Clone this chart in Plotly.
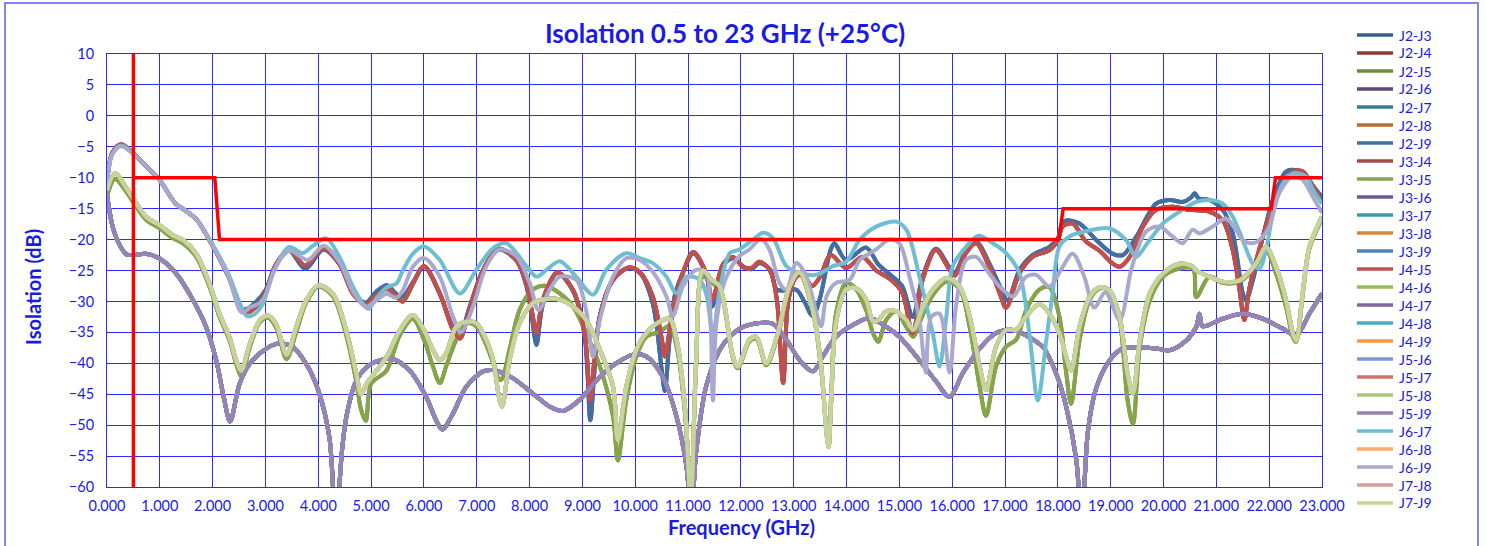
import plotly.graph_objects as go

# ---------------- data ----------------
TITLE = "Isolation 0.5 to 23 GHz (+25°C)"
X_TITLE = "Frequency (GHz)"
Y_TITLE = "Isolation (dB)"

# upper group, dark blue trace
f_blue = [0.0, 0.1, 0.27, 0.5, 0.75, 1.0, 1.3, 1.5, 1.7, 2.0, 2.3, 2.55, 2.65, 2.83, 3.0, 3.2, 3.45, 3.75, 4.1, 4.4,
          4.66, 4.9, 5.1, 5.3, 5.48, 5.6, 5.8, 6.0, 6.3, 6.55, 6.68, 6.86, 7.12, 7.42, 7.75, 7.94, 8.05, 8.13, 8.25, 8.52,
          8.82, 9.04, 9.15, 9.22, 9.33, 9.58, 9.88, 10.1, 10.33, 10.5, 10.56, 10.64, 10.75, 10.9, 11.1, 11.34, 11.46,
          11.66, 11.85, 12.05, 12.2, 12.35, 12.55, 12.68, 12.85, 13.05, 13.2, 13.36, 13.49, 13.7, 13.77, 13.99, 14.37,
          14.6, 14.8, 15.05, 15.25, 15.44, 15.69, 15.95, 16.05, 16.26, 16.45, 16.7, 16.9, 17.05, 17.27, 17.52, 17.84,
          18.0, 18.09, 18.16, 18.41, 18.73, 19.04, 19.23, 19.48, 19.86, 20.11, 20.37, 20.52, 20.59, 20.66, 20.87, 21.12,
          21.31, 21.5, 21.56, 21.69, 21.88, 22.07, 22.32, 22.51, 22.7, 22.89, 23.0]
db_blue = [-11, -6, -4.7, -6.1, -8.2, -10.4, -14.2, -15.4, -16.8, -21, -26, -31.2, -31.2, -30, -28.2, -24, -21.8, -24.7,
           -21.6, -24, -28.6, -30.2, -28.4, -27.4, -28.8, -29.2, -26.8, -24.4, -28.8, -34.2, -35.3, -31, -24.9, -21.6,
           -23.4, -27.5, -33, -37, -30.5, -25.4, -28.3, -35.5, -49.2, -42, -32.4, -26.5, -24.6, -25.5, -30.3, -41,
           -44.5, -37, -29, -25.4, -22.2, -25.6, -30.8, -24.2, -23, -24.4, -24.8, -23.8, -24.8, -28.1, -28.2, -28.1,
           -30, -32.4, -29.7, -21.6, -20.6, -23.3, -21.3, -24, -25.5, -27.5, -32.5, -26, -21.5, -24.5, -25.3, -21.8,
           -20.3, -23.8, -27.5, -29.8, -25, -22.5, -21.2, -19.8, -17.2, -16.9, -17.4, -20.1, -22.3, -22.5, -19.6,
           -14.2, -13.6, -13.9, -13.2, -12.5, -13.3, -13.6, -15.2, -19, -28.7, -29.8, -26.6, -19.6, -13.6, -9, -8.8,
           -9.8, -12, -13.1]

# upper group, red trace
f_red = [0.0, 0.1, 0.27, 0.5, 0.75, 1.0, 1.3, 1.5, 1.7, 2.0, 2.3, 2.55, 2.65, 2.83, 3.0, 3.2, 3.45, 3.75, 4.1, 4.4,
         4.66, 4.9, 5.1, 5.3, 5.48, 5.6, 5.8, 6.0, 6.3, 6.55, 6.68, 6.86, 7.12, 7.42, 7.75, 7.94, 8.05, 8.13, 8.25, 8.52,
         8.82, 9.04, 9.15, 9.22, 9.33, 9.58, 9.88, 10.1, 10.33, 10.5, 10.56, 10.71, 10.9, 11.1, 11.34, 11.46, 11.66,
         11.85, 12.05, 12.2, 12.35, 12.55, 12.68, 12.8, 12.9, 13.05, 13.17, 13.35, 13.5, 13.7, 13.99, 14.3, 14.56,
         14.81, 15.05, 15.25, 15.44, 15.69, 15.95, 16.05, 16.26, 16.45, 16.7, 16.9, 17.02, 17.27, 17.52, 17.84, 18.0,
         18.09, 18.28, 18.53, 18.79, 19.04, 19.17, 19.36, 19.61, 19.86, 20.18, 20.49, 20.87, 21.12, 21.31, 21.44,
         21.53, 21.63, 21.88, 22.13, 22.45, 22.64, 22.83, 23.0]
db_red = [-11, -6, -4.6, -6.1, -8.2, -10.4, -14.2, -15.4, -16.8, -21, -26, -31.3, -31.8, -30.8, -28.6, -24, -21.6,
          -24.2, -21.4, -23.9, -28.8, -30.5, -29, -28, -29.2, -30, -27, -24.3, -28.7, -34.6, -36, -31.4, -24.9, -21.5,
          -23.3, -27, -31.9, -35.1, -29.7, -25.3, -28.1, -35, -46, -40, -32.4, -26.5, -24.5, -25.4, -29.2, -36, -38.9,
          -31.4, -25.4, -22, -25.4, -29.7, -24, -22.8, -24.5, -24.6, -23.6, -25, -29.7, -43.2, -29.7, -26, -25.7,
          -27.5, -26, -22.5, -24.6, -22.8, -25, -26.3, -28.5, -35.2, -26.5, -21.7, -24.9, -25.8, -22.2, -20.6, -24.4,
          -28.7, -31, -25.5, -22.8, -21.7, -20.1, -17.9, -17.4, -20.3, -21.8, -23.9, -24.4, -22.8, -17.9, -15.2,
          -14.7, -15.2, -15.5, -16.9, -21.7, -28.2, -33, -27.7, -19.6, -13.1, -9, -9, -11.5, -13.6]

# upper group, light cyan trace
f_cyan = [0.0, 0.1, 0.27, 0.5, 0.75, 1.0, 1.3, 1.5, 1.7, 2.0, 2.3, 2.5, 2.65, 2.8, 2.95, 3.14, 3.45, 3.7, 3.9, 4.15,
          4.4, 4.66, 4.85, 4.95, 5.1, 5.3, 5.48, 5.6, 5.79, 6.0, 6.3, 6.68, 6.99, 7.31, 7.56, 7.94, 8.13, 8.32, 8.57,
          8.88, 9.2, 9.45, 9.83, 10.08, 10.33, 10.59, 10.78, 10.97, 11.22, 11.35, 11.47, 11.6, 11.79, 11.97, 12.23,
          12.42, 12.61, 12.86, 13.11, 13.43, 13.74, 13.99, 14.25, 14.56, 14.94, 15.13, 15.38, 15.63, 15.76, 15.89,
          16.01, 16.27, 16.5, 16.77, 17.02, 17.27, 17.46, 17.62, 17.78, 17.9, 18.03, 18.22, 18.5, 18.98, 19.29, 19.48,
          19.7, 19.99, 20.3, 20.62, 20.87, 21.12, 21.31, 21.5, 21.69, 21.82, 21.94, 22.07, 22.26, 22.45, 22.7, 22.83,
          23.0]
db_cyan = [-11, -6.2, -4.8, -6.1, -8.2, -10.4, -14.2, -15.4, -16.8, -20.8, -25.6, -30, -32.4, -32, -30.4, -25.5,
           -21.2, -22.2, -21, -19.8, -22.8, -27.7, -30.4, -31.2, -29.5, -27.7, -27.1, -25, -22.3, -21.1, -23.3, -28.7,
           -24.9, -21.4, -20.6, -24.3, -26, -24.9, -23.5, -26, -28.9, -24.9, -22.2, -23, -23.8, -26, -28.7, -26, -26.5,
           -29, -35.5, -28, -22.2, -21.6, -20, -18.9, -19.8, -24.3, -25.4, -25.7, -24.3, -23.6, -20, -17.9, -17.1,
           -18.4, -26, -35.1, -40.5, -32.4, -24.3, -21.1, -19.4, -20.6, -22.2, -25.4, -35.1, -46, -36.3, -28.7, -21.1,
           -19.5, -18.7, -18.2, -20.1, -22.8, -20.5, -17.4, -15.5, -13.9, -13.6, -14.2, -16.3, -20.1, -23.9, -24.7,
           -21.7, -15.8, -10.9, -9.3, -9.8, -12, -14.2]

# upper group, lavender trace
f_lav = [0.0, 0.1, 0.27, 0.5, 0.75, 1.0, 1.3, 1.5, 1.7, 2.0, 2.3, 2.55, 2.7, 2.9, 3.0, 3.2, 3.45, 3.8, 4.1, 4.4, 4.66,
         4.9, 5.1, 5.29, 5.48, 5.6, 5.79, 6.0, 6.3, 6.55, 6.7, 6.93, 7.18, 7.43, 7.75, 8.0, 8.17, 8.38, 8.57, 8.88,
         9.07, 9.2, 9.33, 9.58, 9.83, 10.08, 10.33, 10.59, 10.71, 10.9, 11.15, 11.34, 11.42, 11.47, 11.53, 11.66,
         11.79, 11.97, 12.16, 12.38, 12.54, 12.73, 12.86, 13.05, 13.24, 13.43, 13.52, 13.62, 13.8, 14.06, 14.25, 14.56,
         14.81, 15.0, 15.19, 15.38, 15.5, 15.6, 15.76, 15.95, 16.07, 16.26, 16.45, 16.7, 16.9, 17.15, 17.4, 17.59,
         17.84, 18.05, 18.28, 18.5, 18.69, 18.9, 19.17, 19.4, 19.67, 19.92, 20.17, 20.36, 20.55, 20.68, 20.93, 21.18,
         21.37, 21.5, 21.69, 21.81, 22.0, 22.19, 22.44, 22.63, 22.82, 23.0]
db_lav = [-10.5, -6.2, -4.9, -6.2, -8.2, -10.4, -14.2, -15.4, -16.8, -21, -26, -31.8, -31, -30.2, -29, -24.3, -21.8,
          -23.3, -21, -23.6, -28.5, -30.9, -29.8, -28.8, -29.4, -28.2, -24.4, -23, -26, -32.5, -35, -30.8, -24.3,
          -21.6, -22.7, -27, -31.4, -28.1, -26, -26.5, -31.4, -39, -33, -26, -23, -23.3, -25.2, -29.2, -32.4, -27.6,
          -24.9, -25.4, -32, -46, -34, -27.6, -24.9, -22.7, -21.6, -19.9, -21.6, -27, -28.1, -23.8, -26, -31.9, -34,
          -29.2, -27, -26.5, -23.3, -21.6, -20, -20.6, -26, -33, -41.5, -32.5, -32, -41.5, -30.9, -23.3, -22.8, -25.5,
          -27.6, -29.2, -26, -25.7, -27.6, -25, -22.3, -26, -31, -28.5, -33, -24.5, -18.7, -17.9, -19.5, -20.6, -18.4,
          -19, -17.9, -16.6, -18.4, -20.1, -20.6, -20.1, -17.9, -12.5, -9.8, -10.3, -13, -15.7]

# middle group (light green and dark green traces share the frequency list)
f_green = [0.0, 0.15, 0.37, 0.5, 0.74, 1.0, 1.25, 1.44, 1.69, 1.94, 2.13, 2.32, 2.45, 2.54, 2.7, 2.89, 3.05, 3.2, 3.4,
           3.58, 3.77, 4.0, 4.28, 4.53, 4.72, 4.81, 4.9, 5.0, 5.29, 5.54, 5.79, 6.0, 6.17, 6.3, 6.42, 6.61, 6.8, 6.99,
           7.18, 7.31, 7.43, 7.48, 7.62, 7.81, 8.06, 8.32, 8.57, 8.82, 9.07, 9.33, 9.58, 9.67, 9.83, 10.02, 10.21,
           10.46, 10.65, 10.8, 10.95, 11.05, 11.15, 11.28, 11.45, 11.6, 11.85, 11.94, 12.16, 12.29, 12.48, 12.7, 12.92,
           13.11, 13.36, 13.52, 13.62, 13.66, 13.71, 13.8, 13.99, 14.18, 14.37, 14.5, 14.6, 14.75, 14.94, 15.13, 15.26,
           15.45, 15.63, 15.89, 16.14, 16.33, 16.52, 16.64, 16.83, 17.02, 17.21, 17.4, 17.65, 17.84, 18.03, 18.16,
           18.25, 18.41, 18.6, 18.79, 18.98, 19.17, 19.32, 19.42, 19.55, 19.74, 19.99, 20.3, 20.56, 20.62, 20.87, 21.12,
           21.44, 21.75, 21.94, 22.13, 22.32, 22.45, 22.51, 22.64, 22.76, 23.0]
db_lgreen = [-12, -9.3, -11.7, -13.4, -16.3, -17.7, -19.3, -20.1, -22.3, -27.1, -32, -35.8, -39.6, -41.2, -36.9, -33.1,
             -32.3, -33.6, -38.6, -34.2, -29.8, -27.4, -28.8, -34.7, -41.7, -45, -43.5, -42.3, -39, -34.7, -32.2,
             -34.6, -37.8, -39.5, -38.4, -34.1, -33.3, -33.5, -36.2, -39.5, -45.9, -47, -39.5, -33.5, -30.3, -29.6,
             -29.7, -30.8, -33, -37.8, -43.8, -52.4, -43.8, -37.8, -35.1, -33.3, -32.8, -37, -48, -62, -40, -25,
             -26.5, -27.6, -38.9, -40.5, -36.2, -35.7, -40, -35.1, -27.6, -25.3, -31.4, -40.5, -51.3, -53.5, -46,
             -33.5, -28.1, -27.9, -29.7, -33.2, -33, -31.6, -31.6, -33, -34.6, -30.8, -28.1, -26.2, -27.6, -32.4,
             -40.5, -44.3, -37.3, -34.6, -34.6, -32.4, -30.4, -32, -35.2, -39, -41.2, -34.1, -29.3, -27.7, -28.2,
             -32.5, -41.7, -44.9, -36.3, -28.7, -25.5, -23.9, -24.4, -25, -26, -26.8, -26.6, -23.9, -21.2, -24.4,
             -29.8, -35.2, -36.3, -28.2, -21.2, -16.3]
db_dgreen = [-13, -10.2, -12.3, -14, -16.8, -18.2, -19.8, -20.6, -22.8, -27.6, -32.5, -36.3, -40.2, -42, -37.5, -33.4,
             -32.6, -34.2, -39.3, -35, -30.2, -27.6, -29.2, -35.5, -43, -47.5, -49.3, -43.3, -41.2, -35.5, -32.8,
             -36.2, -40.5, -43.2, -40.5, -36.2, -33.5, -34, -37, -40, -42.7, -42.5, -37.8, -31.4, -28.1, -27.5, -28.7,
             -30.8, -35.1, -40.5, -48.6, -55.7, -45.9, -38.9, -35.7, -34.9, -34, -38, -49, -62, -41, -26, -27, -28,
             -39.2, -40.8, -36.5, -36, -40.3, -35.5, -28, -25.6, -31.6, -41, -50.5, -52, -45, -32, -27, -28, -31.4,
             -35.1, -36.5, -33, -31.6, -34.1, -35.7, -32, -29, -26.8, -28, -34.1, -43.8, -48.5, -40.5, -37.3, -36.2,
             -31.4, -28.1, -27.7, -32.5, -41.7, -46.6, -36.3, -29.8, -27.9, -28.2, -33.1, -46, -49.8, -37.4, -29.8,
             -26, -24.7, -24.7, -29.3, -26, -27, -26.8, -24.3, -21.7, -25.5, -30.9, -35.8, -36.5, -28.5, -21.5, -16.6]

# lower group, purple trace
f_purple = [0.0, 0.11, 0.24, 0.37, 0.5, 0.74, 1.0, 1.31, 1.63, 1.88, 2.07, 2.21, 2.33, 2.51, 2.7, 3.0, 3.25, 3.52,
            3.77, 4.0, 4.21, 4.33, 4.45, 4.53, 4.72, 5.0, 5.4, 5.73, 6.04, 6.23, 6.35, 6.55, 6.8, 7.12, 7.31, 7.68,
            8.06, 8.38, 8.63, 8.95, 9.33, 9.64, 9.96, 10.21, 10.52, 10.78, 10.97, 11.06, 11.15, 11.34, 11.6, 11.79,
            12.0, 12.35, 12.6, 12.86, 13.11, 13.36, 13.55, 13.8, 14.12, 14.44, 14.75, 15.0, 15.38, 15.7, 15.95, 16.2,
            16.52, 16.83, 17.15, 17.4, 17.72, 17.97, 18.16, 18.35, 18.45, 18.57, 18.73, 18.98, 19.23, 19.48, 19.86,
            20.11, 20.43, 20.62, 20.68, 20.74, 21.12, 21.5, 21.88, 22.26, 22.51, 22.76, 23.0]
db_purple = [-12.8, -18, -20.9, -22.4, -22.5, -22.3, -23.1, -25.5, -29.8, -34.2, -39.6, -45.5, -49.4, -43.3, -40.1,
             -37.7, -36.8, -37.4, -40.1, -44.4, -52, -66, -54, -48.7, -42.8, -40.1, -39.3, -41.2, -45.4, -49.2, -50.7,
             -48.1, -43.8, -41.3, -41.1, -42.4, -44.9, -47, -47.7, -45.9, -42.2, -40, -38.6, -38.9, -42.2, -48.6,
             -56.7, -65, -54.6, -43.8, -37.8, -35.7, -34.3, -33.5, -33.6, -36.2, -39.5, -41.3, -38.9, -35.7, -33.8,
             -32.7, -34.1, -35.7, -39.5, -43, -45.4, -41.6, -37.6, -35.1, -34.6, -35.5, -37.4, -41.7, -47.1, -55.7,
             -66, -50.9, -43.9, -39.5, -37.6, -37.4, -37.6, -37.9, -36.3, -34.1, -32, -34, -32.8, -32, -32.8, -34.4,
             -35.5, -32, -28.7]

# specification limit (red)
limit_f = [0.5, 0.5, 0.5, 2.04, 2.13, 18.02, 18.1, 22.04, 22.12, 23.0]
limit_db = [-60, 10, -10, -10, -20, -20, -15, -15, -10, -10]

# series: name, curve it follows, colour
series_names = ["J2-J3", "J2-J4", "J2-J5", "J2-J6", "J2-J7", "J2-J8", "J2-J9",
                "J3-J4", "J3-J5", "J3-J6", "J3-J7", "J3-J8", "J3-J9",
                "J4-J5", "J4-J6", "J4-J7", "J4-J8", "J4-J9",
                "J5-J6", "J5-J7", "J5-J8", "J5-J9",
                "J6-J7", "J6-J8", "J6-J9",
                "J7-J8", "J7-J9"]
series_curve = ["blue", "red", "dgreen", "purple", "purple", "purple", "blue",
                "red", "dgreen", "purple", "purple", "purple", "purple",
                "red", "lgreen", "purple", "purple", "lgreen",
                "lgreen", "lgreen", "lgreen", "purple",
                "cyan", "lgreen", "lav",
                "lgreen", "lgreen"]
series_color = ["#385D8A", "#8C3836", "#71893F", "#5C4776", "#357D91", "#B66D31", "#426DA6",
                "#A94643", "#86A44A", "#6E5792", "#3E97AF", "#DB843D", "#4F81BD",
                "#C0504D", "#9BBB59", "#8064A2", "#4BACC6", "#F79646",
                "#7A9ACB", "#CD7371", "#AAC67A", "#9983B5",
                "#6FBDD1", "#F9AB6E", "#A9A9CE",
                "#D6A09E", "#C3D69B"]

curves = {
    "blue": (f_blue, db_blue),
    "red": (f_red, db_red),
    "cyan": (f_cyan, db_cyan),
    "lav": (f_lav, db_lav),
    "lgreen": (f_green, db_lgreen),
    "dgreen": (f_green, db_dgreen),
    "purple": (f_purple, db_purple),
}
for k, (a, b) in curves.items():
    assert len(a) == len(b), (k, len(a), len(b))

# ---------------- figure ----------------
W, H = 1486, 546
ML, MR, MT, MB = 107, 164, 54, 59
PW, PH = W - ML - MR, H - MT - MB
TXT = "#1A1AE6"
GRID = "#2B2BFF"
FONT = "Lato"


def px_x(px):
    return (px - ML) / PW


def px_y(py):
    return (H - MB - py) / PH


fig = go.Figure()
for name, cur, col in zip(series_names, series_curve, series_color):
    fx, fy = curves[cur]
    fig.add_trace(go.Scatter(
        x=fx, y=fy, name=name, mode="lines", showlegend=False,
        line=dict(color=col, width=4, shape="spline", smoothing=0.9),
        hoverinfo="skip"))

fig.add_trace(go.Scatter(
    x=limit_f, y=limit_db, mode="lines", showlegend=False, name="Limit",
    line=dict(color="#FF0000", width=3.5), hoverinfo="skip"))

# legend drawn to match the reference spacing (one row per 18 px)
shapes = [dict(type="rect", xref="paper", yref="paper",
               x0=px_x(5), x1=px_x(1478), y0=px_y(600), y1=px_y(3),
               line=dict(color="#5B5BF0", width=1.5), fillcolor="rgba(0,0,0,0)", layer="above")]
annotations = [
    dict(text="<b>" + TITLE + "</b>", xref="paper", yref="paper",
         x=px_x(725), y=px_y(33), xanchor="center", yanchor="middle",
         showarrow=False, font=dict(family=FONT, size=26, color=TXT)),
    dict(text="<b>" + X_TITLE + "</b>", xref="paper", yref="paper",
         x=px_x(741), y=px_y(527), xanchor="center", yanchor="middle",
         showarrow=False, font=dict(family=FONT, size=20, color=TXT)),
    dict(text="<b>" + Y_TITLE + "</b>", xref="paper", yref="paper",
         x=px_x(33), y=px_y(287), xanchor="center", yanchor="middle", textangle=-90,
         showarrow=False, font=dict(family=FONT, size=20, color=TXT)),
]
for i, (name, col) in enumerate(zip(series_names, series_color)):
    yy = px_y(35 + 18 * i)
    shapes.append(dict(type="line", xref="paper", yref="paper",
                       x0=px_x(1357), x1=px_x(1393), y0=yy, y1=yy,
                       line=dict(color=col, width=3.5)))
    annotations.append(dict(text=name, xref="paper", yref="paper",
                            x=px_x(1397), y=yy, xanchor="left", yanchor="middle",
                            showarrow=False, font=dict(family=FONT, size=14, color=TXT)))

fig.update_layout(
    width=W, height=H,
    margin=dict(l=ML, r=MR, t=MT, b=MB, autoexpand=False),
    paper_bgcolor="white", plot_bgcolor="white",
    font=dict(family=FONT, color=TXT, size=14.5),
    showlegend=False,
    xaxis=dict(range=[0, 23], dtick=1, tick0=0, tickformat=".3f",
               showgrid=True, gridcolor=GRID, gridwidth=1,
               showline=True, linecolor=GRID, linewidth=1, mirror=True,
               zeroline=False, ticks="", ticklabelstandoff=6, automargin=False,
               tickfont=dict(family=FONT, size=14.5, color=TXT)),
    yaxis=dict(range=[-60, 10], dtick=5, tick0=0,
               showgrid=True, gridcolor=GRID, gridwidth=1,
               showline=True, linecolor=GRID, linewidth=1, mirror=True,
               zeroline=False, ticks="", ticklabelstandoff=9, automargin=False,
               tickfont=dict(family=FONT, size=14.5, color=TXT)),
    annotations=annotations,
    shapes=shapes,
)

fig.write_html("out.html", config={"displayModeBar": False},
               post_script="document.body.style.margin='0';")
